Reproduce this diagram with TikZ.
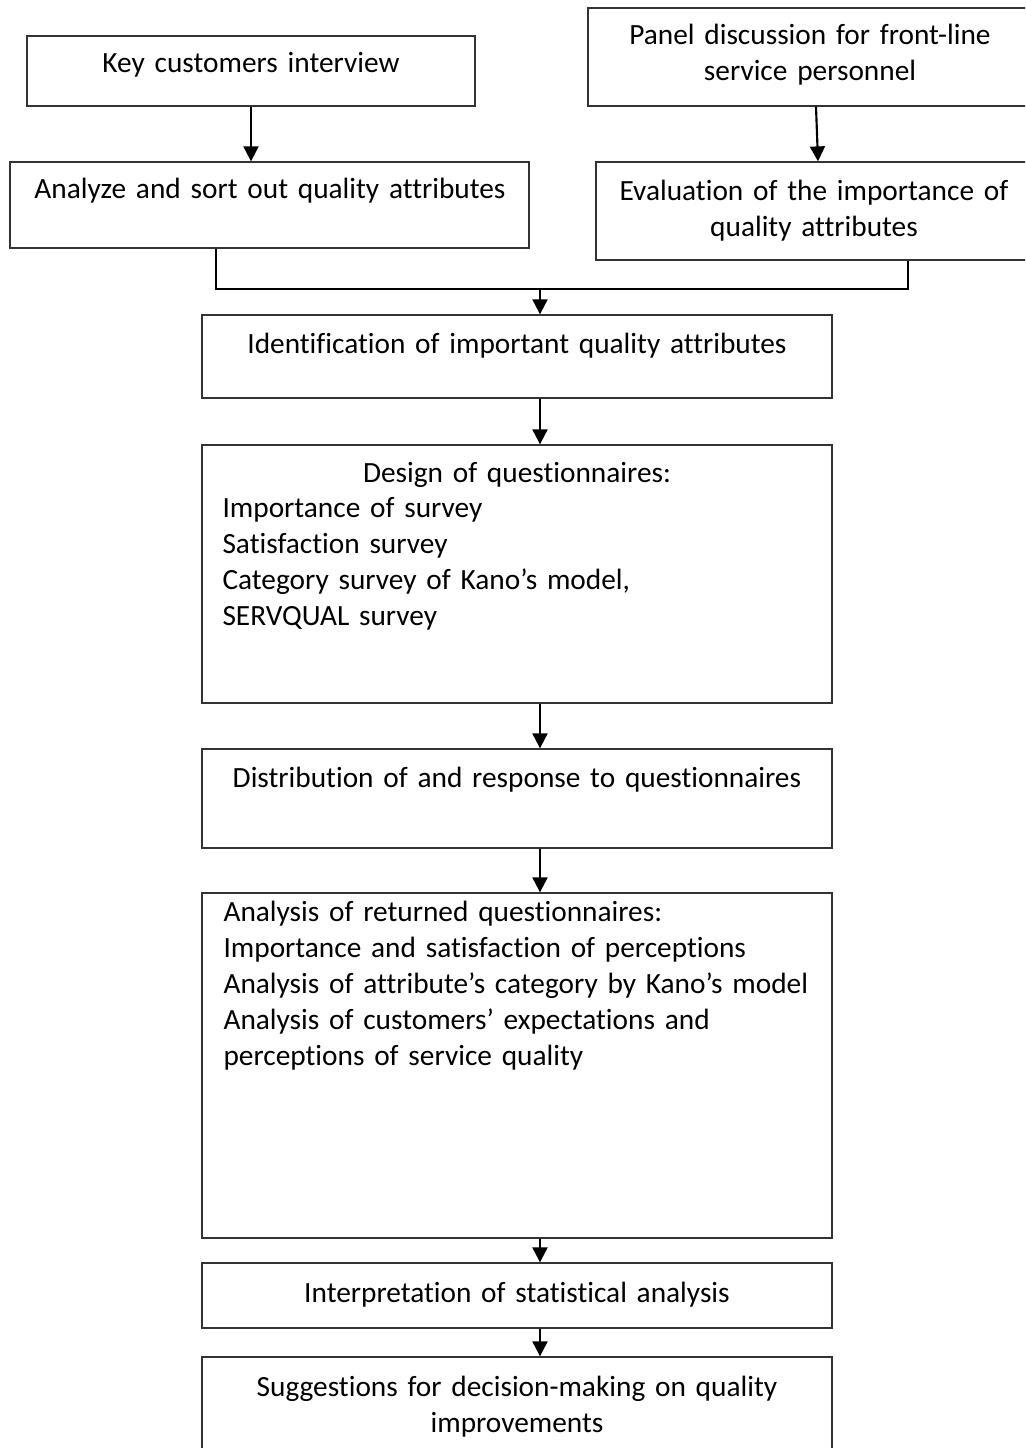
\documentclass[tikz,border=0pt]{standalone}
\usepackage{fontspec}
\setmainfont{Carlito}[Ligatures=NoCommon]
\usetikzlibrary{arrows.meta,fit,calc}
\tikzset{>={Triangle[length=5.6pt,width=5.6pt]}}

\begin{document}
\begin{tikzpicture}[x=0.375pt,y=-0.375pt,
  font={\fontsize{11}{13.5}\selectfont},
  box/.style={draw=black!80,line width=0.5pt,inner sep=0pt},
  ctxt/.style={inner sep=0pt,anchor=base,align=center,text width=#1},
  ltxt/.style={inner sep=0pt,anchor=base west,align=left,text width=#1}]

\useasboundingbox (0,0) rectangle (1025,1448);
\clip (0,0) rectangle (1025,1448);

% boxes
\node [box,fit={(27,36) (475,106)}] (key) {};
\node [box,fit={(10,162) (529,248)}] (analyze) {};
\node [box,fit={(588,8) (1032,106)}] (panel) {};
\node [box,fit={(596,162) (1032,260)}] (evaluation) {};
\node [box,fit={(202,315) (832,398)}] (ident) {};
\node [box,fit={(202,445) (832,703)}] (design) {};
\node [box,fit={(202,749) (832,848)}] (distrib) {};
\node [box,fit={(202,893) (832,1238)}] (analysis) {};
\node [box,fit={(202,1263) (832,1328)}] (interp) {};
\node [box,fit={(202,1357) (832,1470)}] (suggest) {};

% texts
\node [ctxt=420pt] (keytxt) at (251,73) {Key customers interview};
\node [ctxt=420pt] (analyzetxt) at (270,199) {Analyze and sort out quality attributes};
\node [ctxt=400pt] (paneltxt) at (810,45) {Panel discussion for front-line\\service personnel};
\node [ctxt=400pt] (evaluationtxt) at (814,200) {Evaluation of the importance of\\quality attributes};
\node [ctxt=600pt] (identtxt) at (517,353) {Identification of important quality attributes};
\node [ctxt=600pt] (designttl) at (517,482) {Design of questionnaires:};
\node [ltxt=580pt] (designtxt) at (222,517) {Importance of survey\\Satisfaction survey\\Category survey of Kano’s model,\\SERVQUAL survey};
\node [ctxt=600pt] (distribtxt) at (517,787) {Distribution of and response to questionnaires};
\node [ltxt=580pt] (analysistxt) at (223,921) {Analysis of returned questionnaires:\\Importance and satisfaction of perceptions\\Analysis of attribute’s category by Kano’s model\\Analysis of customers’ expectations and\\perceptions of service quality};
\node [ctxt=600pt] (interptxt) at (517,1302) {Interpretation of statistical analysis};
\node [ctxt=600pt] (suggesttxt) at (517,1396) {Suggestions for decision-making on quality\\improvements};

\coordinate (axis) at (540,0);
\coordinate (jl) at (216,289);
\coordinate (jr) at (908,289);
\coordinate (join) at (540,289);

\begin{scope}[line width=0.8pt]
\draw[->] (key.south) -- (key.south |- analyze.north);
\draw[->] ($(panel.south)+(6,0)$) -- ($(evaluation.north)+(4,0)$);
\draw[line width=0.6pt] (jl |- analyze.south) -- (jl) -- (jr) -- (jr |- evaluation.south);
\draw[->] (join) -- (join |- ident.north);
\draw[->] (ident.south -| axis) -- (design.north -| axis);
\draw[->] (design.south -| axis) -- (distrib.north -| axis);
\draw[->] (distrib.south -| axis) -- (analysis.north -| axis);
\draw[->] (analysis.south -| axis) -- (interp.north -| axis);
\draw[->] (interp.south -| axis) -- (suggest.north -| axis);
\end{scope}

\end{tikzpicture}
\end{document}
